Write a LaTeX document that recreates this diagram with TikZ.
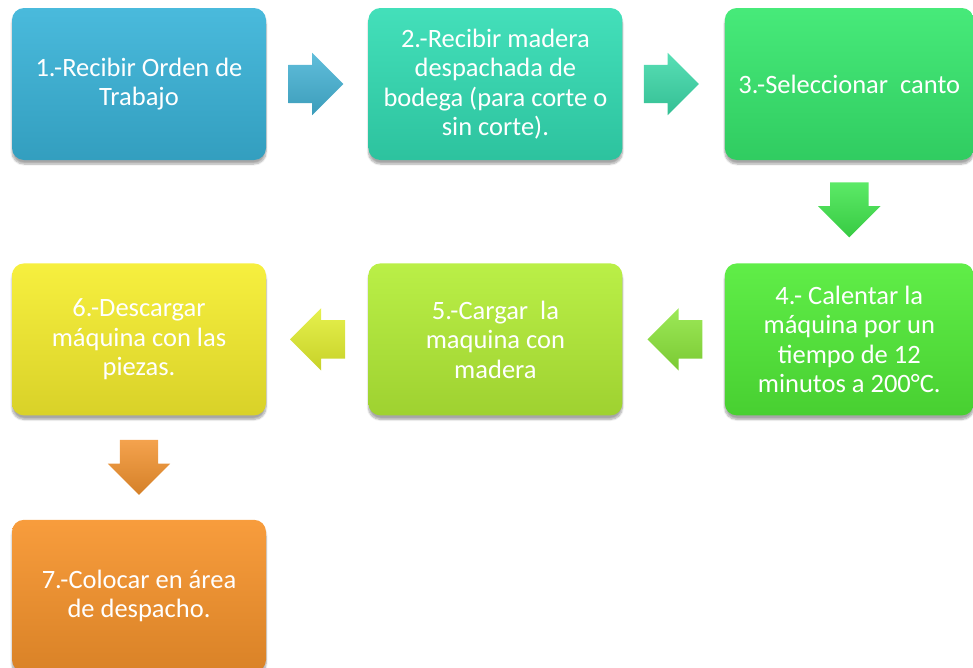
\documentclass[tikz,border=0pt]{standalone}
\usepackage{fontspec}
\setmainfont{Carlito}
\usetikzlibrary{positioning,shapes.arrows,shadows.blur,calc}
\definecolor{azul}{HTML}{3AB4D9}
\definecolor{turquesa}{HTML}{33DDB4}
\definecolor{verde}{HTML}{37E86E}
\definecolor{verdelima}{HTML}{52EC38}
\definecolor{lima}{HTML}{B4EE37}
\definecolor{amarillo}{HTML}{F6EE2E}
\definecolor{naranja}{HTML}{F7942C}
\definecolor{flechaazul}{HTML}{44B2D4}
\definecolor{flechaturq}{HTML}{3BD9A8}
\definecolor{flechaverde}{HTML}{3FE64C}
\definecolor{flechalima}{HTML}{8BE53A}
\definecolor{flechaamar}{HTML}{E2EE2E}
\definecolor{flechanar}{HTML}{F2922E}
\tikzset{
  paso/.style={rectangle, rounded corners=12pt, minimum width=254pt, minimum height=152pt,
    inner sep=0pt, align=center, text=white, font=\fontsize{26.5}{29.5}\selectfont,
    top color=#1!92!white, bottom color=#1!88!black,
    blur shadow={shadow xshift=0pt, shadow yshift=-4pt, shadow blur steps=8, shadow opacity=35}},
  flecha/.style={single arrow, single arrow head extend=12pt, minimum height=55pt,
    minimum width=62pt, inner xsep=0pt, inner ysep=19pt, top color=#1!85!white, bottom color=#1!88!black},
  flechabaja/.style={flecha=#1, shape border rotate=270, inner xsep=19pt, inner ysep=0pt}
}
\begin{document}
\begin{tikzpicture}[x=1pt,y=1pt]
    \useasboundingbox (0,0) rectangle (973,-667);
    \node[paso=azul] (p1) at (139,-84) {1.-Recibir Orden de\\Trabajo};
    \node[paso=turquesa, right=102pt of p1] (p2) {2.-Recibir madera\\despachada de\\bodega (para corte o\\sin corte).};
    \node[paso=verde, minimum width=249pt, right=102pt of p2] (p3) {3.-Seleccionar~ canto};
    \node[paso=verdelima, minimum width=249pt, below=103pt of p3] (p4) {4.- Calentar la\\máquina por un\\tiempo de 12\\minutos a 200°C.};
    \node[paso=lima, below=103pt of p2] (p5) {5.-Cargar~ la\\maquina con\\madera};
    \node[paso=amarillo, below=103pt of p1] (p6) {6.-Descargar\\máquina con las\\piezas.};
    \node[paso=naranja, below=104pt of p6] (p7) {7.-Colocar en área\\de despacho.};

    \node[flecha=flechaazul, right=22pt of p1, anchor=tail] (f12) {};
    \node[flecha=flechaturq, right=21pt of p2, anchor=tail] (f23) {};
    \node[flechabaja=flechaverde, below=22pt of p3, anchor=tail] (f34) {};
    \node[flecha=flechalima, shape border rotate=180, left=22pt of p4, anchor=tail] (f45) {};
    \node[flecha=flechaamar, shape border rotate=180, left=23pt of p5, anchor=tail] (f56) {};
    \node[flechabaja=flechanar, below=24pt of p6, anchor=tail] (f67) {};
\end{tikzpicture}
\end{document}
